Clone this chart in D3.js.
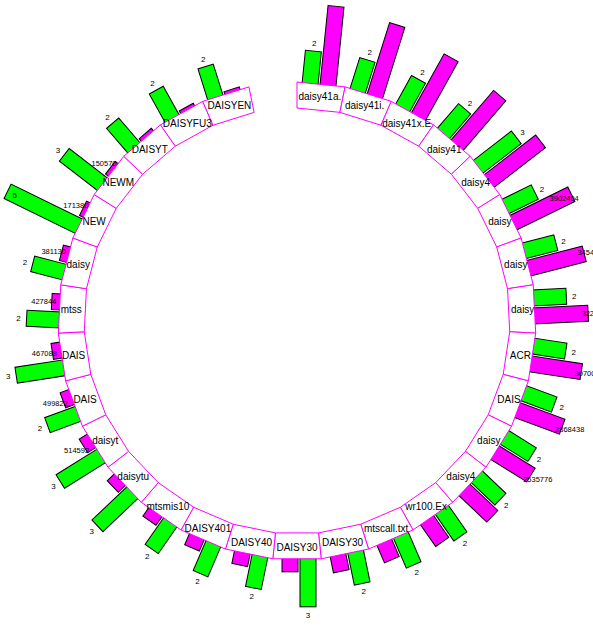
<!DOCTYPE html>
<html>
<head>
<meta charset="utf-8">
<script src="https://cdn.jsdelivr.net/npm/d3@7"></script>
<style>
  html, body { margin: 0; padding: 0; background: #ffffff; }
  svg { display: block; }
  text { font-family: "Liberation Sans", Arial, sans-serif; }
</style>
</head>
<body>
<script>
// ---------------- data ----------------
const categories = ["daisy41a.","daisy41i.","daisy41x.E","daisy41","daisy4","daisy","daisy","daisy","ACR","DAIS",
  "daisy","daisy4","wr100.Ex","mtscall.txt","DAISY30","DAISY30","DAISY40","DAISY401","mtsmis10","daisytu",
  "daisyt","DAIS","DAIS","mtss","daisy","NEW","NEWM","DAISYT","DAISYFU3","DAISYEN"];
const greenValues = [2,2,2,2,3,2,2,2,2,2, 2,2,2,2,2,3,2,2,2,3, 3,2,3,2,2,5,3,2,2,2];
const magentaValues = [4820000,4540000,4080000,3960000,3930000,3902404,3454120,3221560,3070088,2868438,
  2535776,2290000,1560000,1100000,930000,730000,710000,670000,570000,530000,
  514592,499822,467088,427844,381130,171380,150570,130000,110000,100000];
// indices whose magenta value label is visible in the picture
const magentaLabelShown = [5,6,7,8,9,10,20,21,22,23,24,25,26];
// labels drawn inside the bar end instead of beyond it
const insideLabels = [["g",25],["m",5]];

// ---------------- layout ----------------
const W = 593, H = 632;
const cx = 297, cy = 321;
const rOuter = 239, rInner = 213;
const maxLen = 78;
const barW = 16;

const svg = d3.select("body").append("svg").attr("width", W).attr("height", H);
svg.append("rect").attr("width", W).attr("height", H).attr("fill", "#fff");

// one extra empty slot forms the gap at the top
const slot = d3.scaleBand().domain(d3.range(categories.length + 1)).range([0, 360]).paddingInner(0).paddingOuter(0);
const gScale = d3.scaleLinear().domain([0, d3.max(greenValues)]).range([0, maxLen]);
const mScale = d3.scaleLinear().domain([0, d3.max(magentaValues)]).range([0, maxLen]);

const rad = a => a * Math.PI / 180;
function pt(angleDeg, r, tang) {
  const a = rad(angleDeg);
  tang = tang || 0;
  return [cx + r * Math.sin(a) + tang * Math.cos(a), cy - r * Math.cos(a) + tang * Math.sin(a)];
}

const data = categories.map((c, i) => ({
  i, name: c, g: greenValues[i], m: magentaValues[i],
  a0: slot(i), a1: slot(i) + slot.bandwidth(), ac: slot(i) + slot.bandwidth() / 2
}));

// bars
const barsG = svg.append("g");
const bar = barsG.selectAll("g.bar").data(data).join("g")
  .attr("transform", d => `translate(${cx},${cy}) rotate(${d.ac})`);
const series = [
  { key: "g", x: -19, fill: "#00ff00", scale: gScale, val: d => d.g },
  { key: "m", x: -1, fill: "#ff00ff", scale: mScale, val: d => d.m }
];
series.forEach(s => {
  bar.append("rect")
    .attr("x", s.x).attr("width", barW)
    .attr("y", d => -(rOuter + s.scale(s.val(d))))
    .attr("height", d => s.scale(s.val(d)) + 3)
    .attr("fill", s.fill).attr("stroke", "#000").attr("stroke-width", 1);
});

// ring cells
const cellLine = d3.line();
svg.append("g").selectAll("path").data(data).join("path")
  .attr("d", d => cellLine([pt(d.a0, rOuter), pt(d.a1, rOuter), pt(d.a1, rInner), pt(d.a0, rInner)]) + "Z")
  .attr("fill", "#fff").attr("stroke", "#ff00ff").attr("stroke-width", 1);

// cell labels
svg.append("g").selectAll("text").data(data).join("text")
  .attr("x", d => pt(d.ac, (rOuter + rInner) / 2)[0])
  .attr("y", d => pt(d.ac, (rOuter + rInner) / 2)[1])
  .attr("text-anchor", "middle").attr("dominant-baseline", "central")
  .attr("font-size", 10).attr("fill", "#000")
  .text(d => d.name);

// value labels
const isInside = (k, i) => insideLabels.some(p => p[0] === k && p[1] === i);
const labelsG = svg.append("g");
series.forEach(s => {
  const rows = data.filter(d => s.key === "g" || magentaLabelShown.includes(d.i));
  labelsG.selectAll("text." + s.key).data(rows).join("text")
    .attr("class", s.key)
    .each(function(d) {
      const len = s.scale(s.val(d));
      const r = rOuter + len + (isInside(s.key, d.i) ? -8 : 8);
      const p = pt(d.ac, r, s.x + barW / 2);
      d3.select(this).attr("x", p[0]).attr("y", p[1] + 0.5);
    })
    .attr("text-anchor", "middle").attr("dominant-baseline", "central")
    .attr("font-size", s.key === "g" ? 8 : 7.5).attr("fill", "#000")
    .text(d => s.val(d));
});
</script>
</body>
</html>
